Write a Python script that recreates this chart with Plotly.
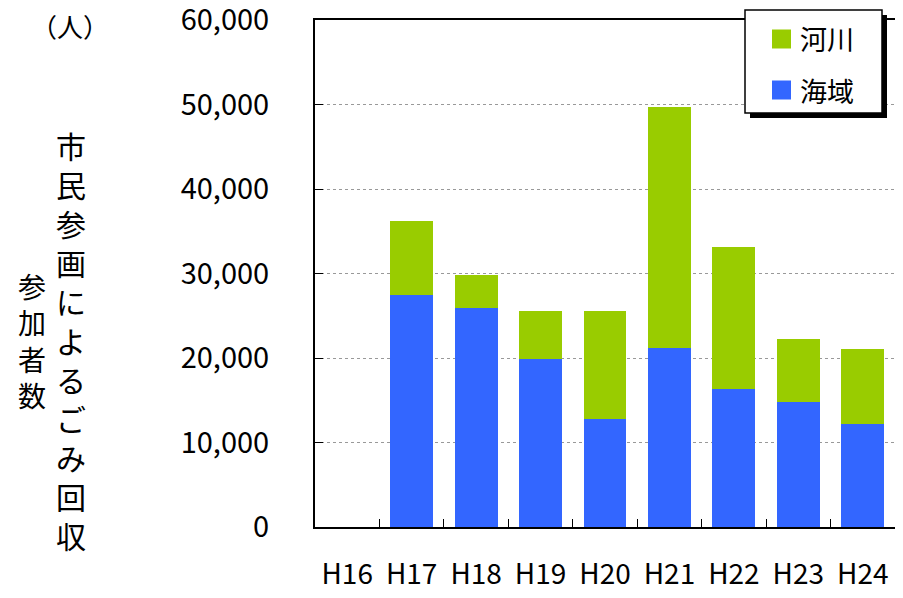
import plotly.graph_objects as go

years = ['H16', 'H17', 'H18', 'H19', 'H20', 'H21', 'H22', 'H23', 'H24']
kaiiki = [None, 27500, 25900, 19900, 12800, 21200, 16300, 14800, 12200]  # 海域
kasen = [None, 8750, 3950, 5650, 12750, 28500, 16800, 7450, 8900]  # 河川
y_ticks = [0, 10000, 20000, 30000, 40000, 50000, 60000]

series_names = ['海域', '河川']
series_colors = ['#3366FF', '#99CC00']

FONT = 'Noto Sans CJK JP'

# page body has an 8px margin; keep the figure inside the window
OFF = 8
W, H = 903 - 2 * OFF, 598 - 2 * OFF
PL, PR, PT, PB = 315, 895, 20, 527  # plot area in screen pixels


def px(x):
    return (x - PL) / (PR - PL)


def py(y):
    return (PB - y) / (PB - PT)


fig = go.Figure()
for vals, name, col in zip([kaiiki, kasen], series_names, series_colors):
    fig.add_trace(go.Bar(x=years, y=vals, name=name, marker_color=col,
                         marker_line_width=0))

fig.update_layout(
    barmode='stack',
    bargap=0.335,
    width=W, height=H,
    margin=dict(l=PL - OFF, r=W - (PR - OFF), t=PT - OFF, b=H - (PB - OFF), autoexpand=False),
    plot_bgcolor='white', paper_bgcolor='white',
    font=dict(family=FONT, size=24, color='black'),
    showlegend=False,
)

fig.update_xaxes(
    showline=True, linecolor='black', linewidth=2, mirror=True,
    ticks='inside', tickson='boundaries', ticklen=8, tickcolor='black',
    tickfont=dict(size=28, family=FONT), ticklabelstandoff=21,
    showgrid=False, automargin=False,
)
fig.update_yaxes(
    range=[0, 60000], tickvals=y_ticks, tickformat=',',
    showline=True, linecolor='black', linewidth=2, mirror=True,
    ticks='inside', ticklen=8, tickcolor='black',
    tickfont=dict(size=29, family=FONT), ticklabelstandoff=38,
    ticklabeloverflow='allow',
    showgrid=True, gridcolor='#999999', griddash='dot', gridwidth=1,
    zeroline=False, automargin=False,
)

# legend box with drop shadow (河川 on top, 海域 below)
fig.add_shape(type='rect', xref='paper', yref='paper',
              x0=px(750), x1=px(887), y0=py(118), y1=py(15),
              fillcolor='black', line_width=0, layer='above')
fig.add_shape(type='rect', xref='paper', yref='paper',
              x0=px(745), x1=px(882), y0=py(113), y1=py(10),
              fillcolor='white', line=dict(color='black', width=1.5), layer='above')
for i, (name, col) in enumerate(zip(series_names[::-1], series_colors[::-1])):
    yc = 39 + 51 * i
    fig.add_shape(type='rect', xref='paper', yref='paper',
                  x0=px(772), x1=px(791), y0=py(yc + 9.5), y1=py(yc - 9.5),
                  fillcolor=col, line_width=0, layer='above')
    fig.add_annotation(text=name, xref='paper', yref='paper',
                       x=px(798), y=py(yc), xanchor='left', yanchor='middle',
                       showarrow=False, font=dict(size=27, family=FONT))

fig.add_annotation(text='（人）', xref='paper', yref='paper',
                   x=px(70), y=py(26), xanchor='center', yanchor='middle',
                   showarrow=False, font=dict(size=26, family=FONT))
fig.add_annotation(text='<br>'.join('市民参画によるごみ回収'), xref='paper', yref='paper',
                   x=px(71), y=py(340), xanchor='center', yanchor='middle',
                   showarrow=False, font=dict(size=30, family=FONT))
fig.add_annotation(text='<br>'.join('参加者数'), xref='paper', yref='paper',
                   x=px(32), y=py(340), xanchor='center', yanchor='middle',
                   showarrow=False, font=dict(size=28, family=FONT))

fig.write_html('out.html')
